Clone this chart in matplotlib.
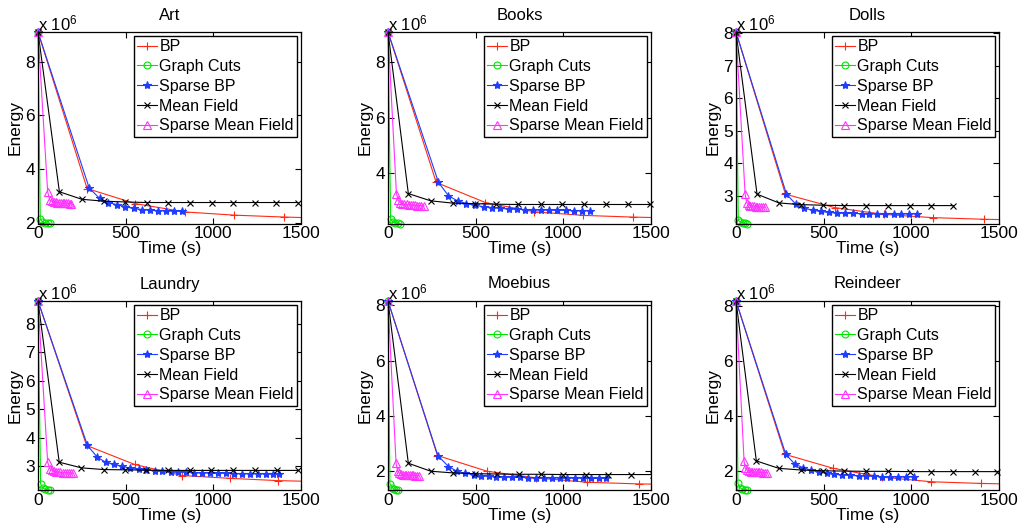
import numpy as np
import matplotlib
matplotlib.use('Agg')
import matplotlib.pyplot as plt
from matplotlib.ticker import MultipleLocator

plt.rcParams['font.family'] = ['Liberation Sans', 'DejaVu Sans']
plt.rcParams['mathtext.fontset'] = 'custom'
plt.rcParams['mathtext.rm'] = 'Liberation Sans'
plt.rcParams['mathtext.it'] = 'Liberation Sans:italic'
plt.rcParams['font.size'] = 12

# energies in units of 10^6, time in seconds
titles = ['Art', 'Books', 'Dolls', 'Laundry', 'Moebius', 'Reindeer']
ytick_step = [2, 2, 1, 1, 2, 2]

bp_t = [[0, 280, 555, 838, 1120, 1403, 1685],
        [0, 275, 555, 832, 1113, 1395, 1675],
        [0, 282, 562, 842, 1122, 1414, 1700],
        [0, 277, 551, 822, 1097, 1371, 1645],
        [0, 282, 565, 842, 1137, 1433, 1720],
        [0, 279, 555, 832, 1115, 1395, 1680]]
bp_e = [[9.10, 3.28, 2.72, 2.41, 2.29, 2.22, 2.17],
        [9.06, 3.68, 2.96, 2.63, 2.50, 2.44, 2.40],
        [8.03, 3.05, 2.64, 2.43, 2.33, 2.28, 2.25],
        [8.81, 3.72, 3.05, 2.66, 2.56, 2.48, 2.44],
        [8.16, 2.56, 1.99, 1.75, 1.59, 1.53, 1.50],
        [8.18, 2.59, 2.08, 1.76, 1.59, 1.53, 1.49]]

gc_t = [[0, 13, 25, 40, 55, 70],
        [0, 15, 28, 40, 55, 70],
        [0, 13, 25, 38, 50, 63],
        [0, 15, 28, 40, 55, 68],
        [0, 11, 22, 35, 47, 59],
        [0, 11, 22, 35, 50, 65]]
gc_e = [[9.10, 2.14, 2.04, 2.01, 1.99, 1.98],
        [9.06, 2.36, 2.27, 2.24, 2.22, 2.21],
        [8.03, 2.25, 2.19, 2.17, 2.16, 2.15],
        [8.81, 2.36, 2.22, 2.18, 2.16, 2.15],
        [8.16, 1.53, 1.40, 1.35, 1.32, 1.31],
        [8.18, 1.53, 1.38, 1.32, 1.30, 1.29]]

sbp_t = [[0, 292, 352, 400, 451, 498, 545, 593, 640, 687, 731, 778, 822],
         [0, 288, 345, 397, 447, 496, 546, 594, 641, 689, 733, 779, 826, 874, 920, 966, 1013, 1061, 1107, 1153],
         [0, 288, 342, 389, 437, 483, 531, 578, 622, 670, 718, 761, 807, 851, 899, 943, 989, 1032],
         [0, 282, 339, 386, 434, 481, 527, 574, 617, 665, 708, 756, 801, 845, 892, 936, 983, 1025, 1072, 1116, 1163, 1208, 1252, 1299, 1343, 1375],
         [0, 284, 345, 393, 441, 489, 531, 574, 618, 664, 708, 752, 798, 842, 890, 935, 979, 1023, 1067, 1113, 1158, 1202, 1246],
         [0, 284, 336, 384, 427, 473, 517, 561, 607, 651, 699, 743, 789, 832, 880, 924, 970, 1013]]
sbp_e = [[9.10, 3.30, 2.91, 2.76, 2.68, 2.60, 2.54, 2.50, 2.47, 2.46, 2.45, 2.44, 2.44],
         [9.06, 3.68, 3.20, 3.02, 2.92, 2.86, 2.81, 2.78, 2.75, 2.73, 2.72, 2.71, 2.70, 2.69, 2.69, 2.68, 2.68, 2.67, 2.67, 2.67],
         [8.03, 3.05, 2.74, 2.62, 2.56, 2.52, 2.49, 2.47, 2.46, 2.46, 2.45, 2.45, 2.45, 2.45, 2.45, 2.45, 2.45, 2.45],
         [8.81, 3.72, 3.30, 3.13, 3.05, 2.98, 2.92, 2.88, 2.85, 2.83, 2.81, 2.80, 2.78, 2.77, 2.76, 2.76, 2.75, 2.74, 2.74, 2.73, 2.73, 2.73, 2.72, 2.72, 2.72, 2.72],
         [8.16, 2.56, 2.16, 1.99, 1.91, 1.87, 1.83, 1.80, 1.79, 1.78, 1.77, 1.77, 1.76, 1.76, 1.75, 1.75, 1.75, 1.74, 1.74, 1.74, 1.73, 1.73, 1.73],
         [8.18, 2.59, 2.23, 2.10, 2.01, 1.95, 1.90, 1.86, 1.84, 1.82, 1.81, 1.80, 1.79, 1.78, 1.78, 1.77, 1.77, 1.77]]

mf_t = [[0, 122, 250, 375, 498, 621, 744, 867, 991, 1114, 1237, 1360, 1483],
        [0, 116, 244, 368, 494, 618, 742, 870, 994, 1118, 1246, 1370, 1493],
        [0, 120, 246, 370, 496, 618, 742, 866, 990, 1114, 1239],
        [0, 121, 248, 375, 498, 617, 741, 865, 989, 1113, 1237, 1361, 1481],
        [0, 116, 244, 370, 498, 622, 746, 875, 1000, 1128, 1256, 1385, 1509],
        [0, 116, 244, 368, 494, 618, 742, 866, 990, 1114, 1238, 1362, 1487]]
mf_e = [[9.10, 3.16, 2.88, 2.81, 2.78, 2.76, 2.76, 2.76, 2.76, 2.76, 2.76, 2.76, 2.76],
        [9.06, 3.28, 3.02, 2.94, 2.92, 2.90, 2.89, 2.89, 2.89, 2.89, 2.89, 2.89, 2.89],
        [8.03, 3.05, 2.78, 2.73, 2.71, 2.70, 2.70, 2.70, 2.70, 2.70, 2.70],
        [8.81, 3.13, 2.93, 2.87, 2.86, 2.85, 2.84, 2.84, 2.84, 2.84, 2.84, 2.84, 2.84],
        [8.16, 2.28, 1.99, 1.93, 1.90, 1.89, 1.88, 1.88, 1.87, 1.87, 1.87, 1.87, 1.87],
        [8.18, 2.35, 2.08, 2.02, 1.99, 1.98, 1.97, 1.97, 1.96, 1.96, 1.96, 1.96, 1.96]]

smf_t = [[0, 55, 68, 80, 90, 100, 110, 120, 130, 140, 150, 160, 170, 180, 190],
         [0, 48, 58, 70, 82, 94, 106, 118, 130, 142, 154, 166, 178, 190, 206],
         [0, 52, 62, 72, 82, 92, 102, 112, 122, 132, 142, 152, 164],
         [0, 55, 68, 80, 92, 104, 116, 128, 140, 152, 164, 176, 188, 201],
         [0, 46, 55, 65, 75, 85, 95, 105, 115, 125, 135, 145, 155, 165, 174],
         [0, 46, 53, 63, 73, 83, 93, 103, 113, 123, 133, 143, 153, 163, 179]]
smf_e = [[9.10, 3.16, 2.85, 2.80, 2.78, 2.77, 2.76, 2.75, 2.75, 2.74, 2.74, 2.73, 2.73, 2.72, 2.72],
         [9.06, 3.28, 3.04, 2.96, 2.92, 2.90, 2.89, 2.88, 2.87, 2.86, 2.86, 2.85, 2.85, 2.84, 2.84],
         [8.03, 3.05, 2.78, 2.72, 2.70, 2.69, 2.68, 2.67, 2.67, 2.66, 2.66, 2.65, 2.65],
         [8.81, 3.13, 2.90, 2.84, 2.81, 2.79, 2.78, 2.77, 2.76, 2.76, 2.75, 2.75, 2.74, 2.74],
         [8.16, 2.28, 1.99, 1.92, 1.89, 1.87, 1.86, 1.85, 1.85, 1.84, 1.84, 1.84, 1.83, 1.83, 1.83],
         [8.18, 2.35, 2.08, 2.01, 1.98, 1.96, 1.95, 1.94, 1.94, 1.93, 1.93, 1.93, 1.92, 1.92, 1.92]]

names = ['BP', 'Graph Cuts', 'Sparse BP', 'Mean Field', 'Sparse Mean Field']
colors = ['#ff2a14', '#00e600', '#1f3cff', 'black', '#ff33ff']
markers = ['+', 'o', '*', 'x', '^']
msizes = [6, 5, 6, 4, 6]
fills = ['full', 'none', 'full', 'full', 'none']

W, H = 1020, 524
fig = plt.figure(figsize=(W / 100, H / 100), dpi=100)

col_left = [38, 388, 736]
row_top = [32, 301]
row_bot = [223.5, 490]
ax_w = 263

for i in range(6):
    r, c = divmod(i, 3)
    ax_h = row_bot[r] - row_top[r]
    ax = fig.add_axes([col_left[c] / W, 1 - row_bot[r] / H, ax_w / W, ax_h / H])
    series = [(bp_t[i], bp_e[i]), (gc_t[i], gc_e[i]), (sbp_t[i], sbp_e[i]),
              (mf_t[i], mf_e[i]), (smf_t[i], smf_e[i])]
    for k, (t, e) in enumerate(series):
        ax.plot(t, e, color=colors[k], marker=markers[k], markersize=msizes[k],
                markerfacecolor=colors[k] if fills[k] == 'full' else 'none',
                markeredgewidth=0.8, linewidth=0.8, label=names[k],
                clip_on=max(t) > 1500)
    ax.set_xlim(0, 1500)
    ax.set_ylim(min(gc_e[i]), gc_e[i][0])
    ax.xaxis.set_major_locator(MultipleLocator(500))
    ax.yaxis.set_major_locator(MultipleLocator(ytick_step[i]))
    ax.tick_params(direction='in', top=True, right=True, length=4, width=0.8, pad=2,
                   labelsize=12.5)
    for s in ax.spines.values():
        s.set_linewidth(0.9)
    ax.set_title(titles[i], fontsize=12, pad=9)
    ax.set_xlabel('Time (s)', labelpad=0, fontsize=12.5)
    ax.set_ylabel('Energy', labelpad=2, fontsize=12.5)
    ax.text(0, 1 + 1.5 / ax_h, r'x 10$^{6}$', transform=ax.transAxes,
            ha='left', va='baseline', fontsize=12)
    leg = ax.legend(loc='upper right', fancybox=False, edgecolor='black', framealpha=1,
                    borderaxespad=0.25, handlelength=1.25, handletextpad=0.15,
                    labelspacing=0.3, borderpad=0.2, fontsize=11.5)
    leg.get_frame().set_linewidth(1.0)

plt.savefig('out.png', dpi=100)
